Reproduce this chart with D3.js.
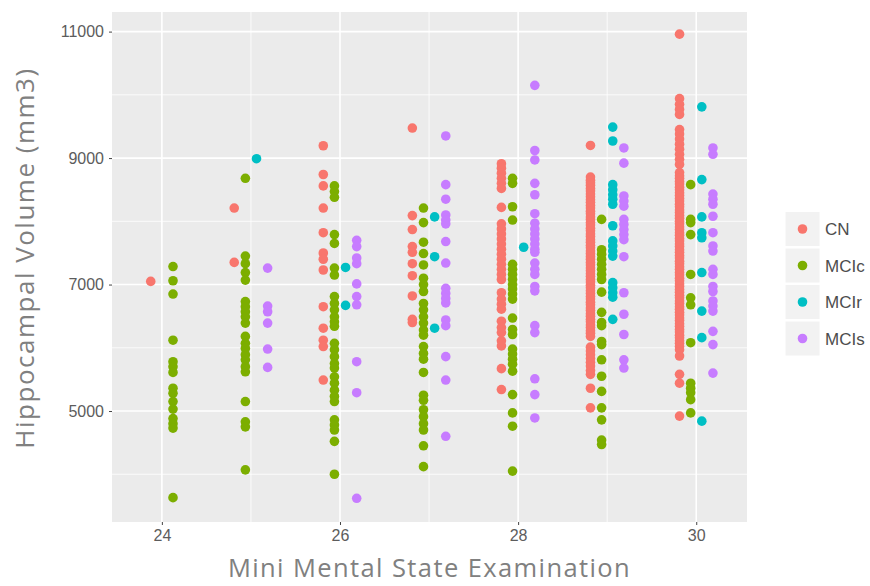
<!DOCTYPE html>
<html>
<head>
<meta charset="utf-8">
<script src="https://cdn.jsdelivr.net/npm/d3@7"></script>
<style>
  body { margin: 0; background: #fff; }
  svg { display: block; }
</style>
</head>
<body>
<script>
"use strict"

const scores = [24, 25, 26, 27, 28, 29, 30]
const groups = ["CN", "MCIc", "MCIr", "MCIs"]
const colors = ["#F8766D", "#7CAE00", "#00BFC4", "#C77CFF"]
const xTicks = [24, 26, 28, 30]
const yTicks = [5000, 7000, 9000, 11000]

// hippocampal volume (mm3) per MMSE score
const CN = {
  24: [7050],
  25: [8210, 7350],
  26: [9195, 8740, 8560, 8210, 7820, 7500, 7400, 7230, 6650, 6310, 6120, 6020, 5490],
  27: [9475, 8090, 7870, 7600, 7510, 7330, 7140, 6820, 6450, 6400],
  28: [8910, 8840, 8760, 8680, 8600, 8520, 8220, 7960, 7880, 7800, 7720, 7640, 7560, 7480, 7400, 7320,
       7240, 7160, 7080, 6870, 6770, 6690, 6610, 6420, 6320, 6240, 6110, 6030, 5670, 5340],
  29: [9200, 8700, 8650, 8610, 8570, 8520, 8480, 8430, 8390, 8340, 8300, 8250, 8210, 8160, 8120, 8070,
       8030, 7980, 7940, 7890, 7850, 7800, 7760, 7710, 7670, 7620, 7580, 7530, 7490, 7440, 7400, 7350,
       7310, 7260, 7220, 7170, 7130, 7080, 7040, 6990, 6950, 6900, 6860, 6810, 6770, 6720, 6680, 6630,
       6590, 6540, 6500, 6450, 6410, 6360, 6320, 6270, 6230, 6180, 6010, 5950, 5890, 5830, 5770, 5710,
       5640, 5580, 5360, 5050],
  30: [10960, 9940, 9850, 9770, 9690, 9450, 9380, 9300, 9220, 9140, 9060, 8980, 8900, 8770, 8720, 8680,
       8630, 8590, 8540, 8500, 8450, 8410, 8360, 8320, 8270, 8230, 8180, 8140, 8090, 8050, 8000, 7960,
       7910, 7870, 7820, 7780, 7730, 7690, 7640, 7600, 7550, 7510, 7460, 7420, 7370, 7330, 7280, 7240,
       7190, 7150, 7100, 7060, 7010, 6970, 6920, 6880, 6830, 6790, 6740, 6700, 6650, 6610, 6560, 6520,
       6470, 6430, 6380, 6340, 6290, 6250, 6200, 6160, 6110, 6070, 6020, 5970, 5870, 5580, 5440, 4920],
}

const MCIc = {
  24: [7285, 7060, 6850, 6120, 5780, 5700, 5610, 5360, 5280, 5150, 5030, 4880, 4800, 4730, 3630],
  25: [8680, 7450, 7330, 7190, 7070, 6730, 6650, 6570, 6490, 6390, 6180, 6070, 5990, 5890, 5810, 5700,
       5620, 5150, 4830, 4750, 4070],
  26: [8560, 8470, 8380, 7790, 7650, 7260, 7150, 6810, 6700, 6600, 6490, 6410, 6340, 6070, 5970, 5860,
       5750, 5680, 5540, 5440, 5330, 5230, 5150, 4860, 4780, 4700, 4520, 4000],
  27: [8210, 7980, 7670, 7490, 7310, 7100, 7000, 6890, 6700, 6600, 6490, 6390, 6280, 6200, 6020, 5910,
       5820, 5610, 5250, 5170, 5020, 4910, 4800, 4700, 4450, 4120],
  28: [8680, 8600, 8230, 8020, 7320, 7240, 7160, 7080, 7000, 6930, 6850, 6770, 6470, 6290, 6210, 5980,
       5900, 5820, 5740, 5630, 5260, 4970, 4760, 4050],
  29: [8030, 7550, 7480, 7400, 7320, 7240, 7160, 7080, 6880, 6560, 6400, 6350, 6100, 6050, 5810, 5550,
       5310, 5050, 4860, 4540, 4470],
  30: [8580, 8030, 7980, 7790, 7160, 6790, 6680, 6080, 5440, 5360, 5290, 5180, 4970],
}

const MCIr = {
  25: [8990],
  26: [7270, 6670],
  27: [8070, 7440, 6310],
  28: [7590],
  29: [9490, 9270, 8580, 8500, 8420, 8350, 8270, 7930, 7690, 7610, 7530, 7450, 7030, 6950, 6870, 6800, 6450],
  30: [9810, 8660, 8070, 7820, 7740, 7190, 6580, 6160, 4840],
}

const MCIs = {
  25: [7260, 6660, 6570, 6390, 5980, 5690],
  26: [7700, 7600, 7420, 7330, 7010, 6810, 6680, 5780, 5290, 3620],
  27: [9350, 8580, 8350, 8100, 8020, 7960, 7680, 7340, 6940, 6860, 6780, 6710, 6440, 6350, 5860, 5490, 4600],
  28: [10150, 9120, 8970, 8600, 8420, 8120, 7970, 7880, 7800, 7720, 7640, 7560, 7510, 7340, 7240, 7160,
       6970, 6900, 6350, 6240, 5510, 5260, 4890],
  29: [9160, 8920, 8400, 8320, 8240, 8030, 7950, 7870, 7790, 7710, 7440, 6870, 6530, 6210, 5810, 5680],
  30: [9160, 9060, 8430, 8350, 8270, 8080, 7820, 7610, 7530, 7240, 7160, 6970, 6890, 6740, 6660, 6580,
       6260, 6050, 5600],
}

const byGroup = { CN, MCIc, MCIr, MCIs }

const width  = 870
const height = 586
const margin = { top : 12, right : 123, bottom : 64, left : 112 }
const dodgeWidth = 0.5
const radius = 4.8

const x = d3.scaleLinear().domain([23.44, 30.57]).range([margin.left, width - margin.right])
const y = d3.scaleLinear().domain([3245, 11310]).range([height - margin.bottom, margin.top])
const color = d3.scaleOrdinal().domain(groups).range(colors)

// position_dodge: spread the groups present at each score over dodgeWidth
const points = scores.flatMap(score => {
  const present = groups.filter(g => byGroup[g][score])
  const n = present.length
  return present.flatMap((group, i) => byGroup[group][score].map(volume => ({
    group,
    score,
    volume,
    xpos : score + (i - (n - 1) / 2) * dodgeWidth / n,
  })))
})

const svg = d3.select("body").append("svg")
  .attr("width", width)
  .attr("height", height)

const [x0, x1] = x.range()
const [y1, y0] = y.range()

svg.append("rect")
  .attr("x", x0).attr("y", y0)
  .attr("width", x1 - x0).attr("height", y1 - y0)
  .attr("fill", "#EBEBEB")

const grid = svg.append("g").attr("stroke", "#fff")

grid.selectAll(".minor-x").data(d3.range(25, 30, 2)).enter()
  .append("line")
  .attr("x1", d => x(d)).attr("x2", d => x(d))
  .attr("y1", y0).attr("y2", y1)
  .attr("stroke-width", 0.8)

grid.selectAll(".minor-y").data(d3.range(4000, 11001, 2000)).enter()
  .append("line")
  .attr("x1", x0).attr("x2", x1)
  .attr("y1", d => y(d)).attr("y2", d => y(d))
  .attr("stroke-width", 0.8)

grid.selectAll(".major-x").data(xTicks).enter()
  .append("line")
  .attr("x1", d => x(d)).attr("x2", d => x(d))
  .attr("y1", y0).attr("y2", y1)
  .attr("stroke-width", 1.6)

grid.selectAll(".major-y").data(yTicks).enter()
  .append("line")
  .attr("x1", x0).attr("x2", x1)
  .attr("y1", d => y(d)).attr("y2", d => y(d))
  .attr("stroke-width", 1.6)

svg.append("g").selectAll("circle").data(points).enter()
  .append("circle")
  .attr("cx", d => x(d.xpos))
  .attr("cy", d => y(d.volume))
  .attr("r", radius)
  .attr("fill", d => color(d.group))

const styleAxis = g => {
  g.select(".domain").remove()
  g.selectAll(".tick line").attr("stroke", "#444").attr("stroke-width", 1)
  g.selectAll(".tick text")
    .attr("fill", "#5c5c5c")
    .attr("font-family", "'Liberation Sans', Arial, sans-serif")
    .attr("font-size", 16)
}

svg.append("g")
  .attr("transform", `translate(0 ${y1})`)
  .call(d3.axisBottom(x).tickValues(xTicks).tickFormat(d3.format("d")).tickSize(3).tickPadding(5))
  .call(styleAxis)

svg.append("g")
  .attr("transform", `translate(${x0} 0)`)
  .call(d3.axisLeft(y).tickValues(yTicks).tickFormat(d3.format("d")).tickSize(3).tickPadding(5))
  .call(styleAxis)

svg.append("text")
  .text("Mini Mental State Examination")
  .attr("x", (x0 + x1) / 2)
  .attr("y", 577)
  .attr("text-anchor", "middle")
  .attr("fill", "#808080")
  .attr("font-family", "'Open Sans', sans-serif")
  .attr("font-size", 25.5)
  .attr("letter-spacing", 1.4)

svg.append("text")
  .text("Hippocampal Volume (mm3)")
  .attr("transform", `translate(34 258) rotate(-90)`)
  .attr("text-anchor", "middle")
  .attr("fill", "#808080")
  .attr("font-family", "'Open Sans', sans-serif")
  .attr("font-size", 26)
  .attr("letter-spacing", 1.5)

// legend
const keySize = 35
const keyStep = 36.5
const legend = svg.append("g")
  .attr("transform", `translate(785 ${229 - keySize / 2})`)

const key = legend.selectAll(".key").data(groups).enter()
  .append("g")
  .attr("class", "key")
  .attr("transform", (_, i) => `translate(0 ${i * keyStep})`)

key.append("rect")
  .attr("width", keySize).attr("height", keySize)
  .attr("fill", "#F2F2F2")
  .attr("stroke", "#fff")
  .attr("stroke-width", 1)

key.append("circle")
  .attr("cx", keySize / 2).attr("cy", keySize / 2)
  .attr("r", radius)
  .attr("fill", d => color(d))

key.append("text")
  .text(d => d)
  .attr("x", keySize + 5)
  .attr("y", keySize / 2)
  .attr("dy", "0.36em")
  .attr("fill", "#4d4d4d")
  .attr("font-family", "'Liberation Sans', Arial, sans-serif")
  .attr("font-size", 17)
</script>
</body>
</html>
